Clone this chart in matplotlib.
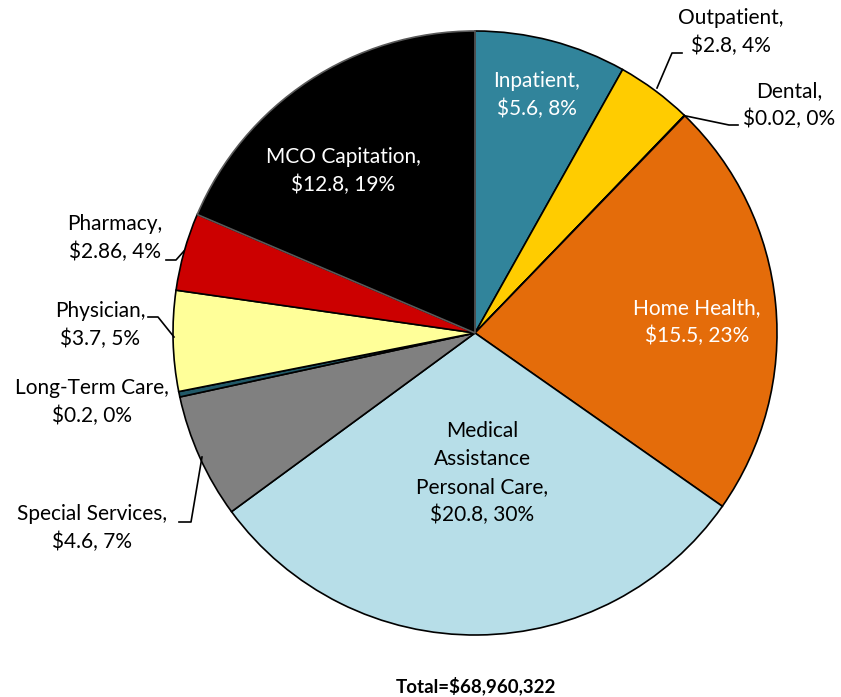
import matplotlib.pyplot as plt

# Datos (millones de dólares)
categorias = ["Inpatient", "Outpatient", "Dental", "Home Health",
              "Medical\nAssistance\nPersonal Care", "Special Services",
              "Long-Term Care", "Physician", "Pharmacy", "MCO Capitation"]
valores = [5.6, 2.8, 0.02, 15.5, 20.8, 4.6, 0.2, 3.7, 2.86, 12.8]
valores_txt = ["$5.6", "$2.8", "$0.02", "$15.5", "$20.8", "$4.6", "$0.2", "$3.7", "$2.86", "$12.8"]
porcentajes = ["8%", "4%", "0%", "23%", "30%", "7%", "0%", "5%", "4%", "19%"]
total_txt = "Total=$68,960,322"

colores = ["#31849B", "#FFCC00", "#215968", "#E46C0A", "#B7DEE8",
           "#808080", "#215968", "#FFFF99", "#CC0000", "#000000"]

plt.rcParams['font.family'] = ['Lato', 'DejaVu Sans']

fig = plt.figure(figsize=(8.41, 6.97), dpi=100)

# la tarta se dibuja en un eje con y hacia arriba
ax2 = fig.add_axes([0, 0, 1, 1])
cuñas, _ = ax2.pie(valores, colors=colores, startangle=90, counterclock=False,
                   center=(475, 697 - 333), radius=302, frame=True,
                   wedgeprops=dict(edgecolor='black', linewidth=1.2))
cuñas[-1].set_edgecolor('#595959')
ax2.set_xlim(0, 841)
ax2.set_ylim(0, 697)
ax2.set_aspect('equal')
ax2.axis('off')

# eje de textos encima, en píxeles con y hacia abajo
ax = fig.add_axes([0, 0, 1, 1])
ax.set_xlim(0, 841)
ax.set_ylim(697, 0)
ax.axis('off')
ax.set_zorder(3)
ax.patch.set_visible(False)

# Posiciones de las etiquetas (píxeles)
pos = [(537, 95), (731, 32), (789, 105), (697, 322), (482, 473),
       (92, 528), (92, 402), (100, 325), (115, 238), (343, 171)]
blancos = {"Inpatient", "Home Health", "MCO Capitation"}
for cat, v, p, (x, y) in zip(categorias, valores_txt, porcentajes, pos):
    color = 'white' if cat in blancos else 'black'
    ax.text(x, y, f"{cat},\n{v}, {p}", ha='center', va='center',
            fontsize=15, color=color, linespacing=1.5)

# Líneas guía
guias = [
    [(657, 88), (672, 53), (682, 53)],
    [(686, 116), (729, 125), (738, 125)],
    [(202, 457), (191, 522), (179, 522)],
    [(184, 251), (176, 260), (166, 260)],
    [(174, 337), (158, 317), (148, 317)],
]
for g in guias:
    xs, ys = zip(*g)
    ax.plot(xs, ys, color='black', lw=1.2)

ax.text(476, 686, total_txt, ha='center', va='center', fontsize=13.5, fontweight='bold')

fig.savefig("out.png", dpi=100)
